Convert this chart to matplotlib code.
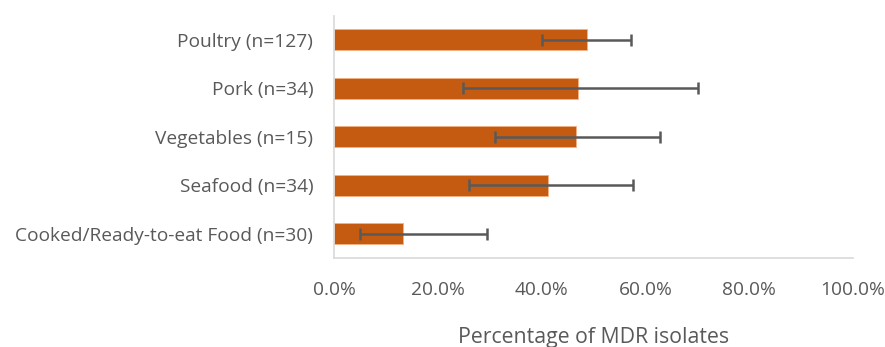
import numpy as np
import matplotlib.pyplot as plt
from matplotlib.ticker import PercentFormatter

plt.rcParams['font.family'] = ['Open Sans', 'DejaVu Sans']

# データ (上から順)
categories = ['Poultry (n=127)', 'Pork (n=34)', 'Vegetables (n=15)',
              'Seafood (n=34)', 'Cooked/Ready-to-eat Food (n=30)']
percent = [48.8, 47.1, 46.7, 41.2, 13.3]
ci_low = [40.1, 24.9, 31.0, 26.1, 5.1]
ci_high = [57.2, 70.1, 62.8, 57.7, 29.4]

percent = np.array(percent)
err = [percent - np.array(ci_low), np.array(ci_high) - percent]
y = np.arange(len(categories))[::-1]

fig = plt.figure(figsize=(8.85, 3.47), dpi=100)
ax = fig.add_axes([0.3774, 0.2565, 0.5864, 0.6985])

ax.barh(y, percent, height=0.43, color='#C55A11', edgecolor='#F4B183', linewidth=0.6)
ax.errorbar(percent, y, xerr=err, fmt='none', ecolor='#595959',
            elinewidth=1.8, capsize=4.2, capthick=1.8)

ax.set_xlim(0, 100)
ax.set_ylim(-0.5, 4.5)
ax.set_xticks(np.arange(0, 101, 20))
ax.xaxis.set_major_formatter(PercentFormatter(decimals=1))
ax.set_yticks(y)
ax.set_yticklabels(categories)

for s in ['top', 'right']:
    ax.spines[s].set_visible(False)
for s in ['left', 'bottom']:
    ax.spines[s].set_color('#D9D9D9')
    ax.spines[s].set_linewidth(1.2)
ax.tick_params(axis='both', length=0, colors='#595959', labelsize=13.8)
ax.tick_params(axis='y', pad=15)
ax.tick_params(axis='x', pad=16.5)
ax.set_xlabel('Percentage of MDR isolates', fontsize=15.3, color='#595959', labelpad=20)

plt.savefig('out.png', dpi=100)
